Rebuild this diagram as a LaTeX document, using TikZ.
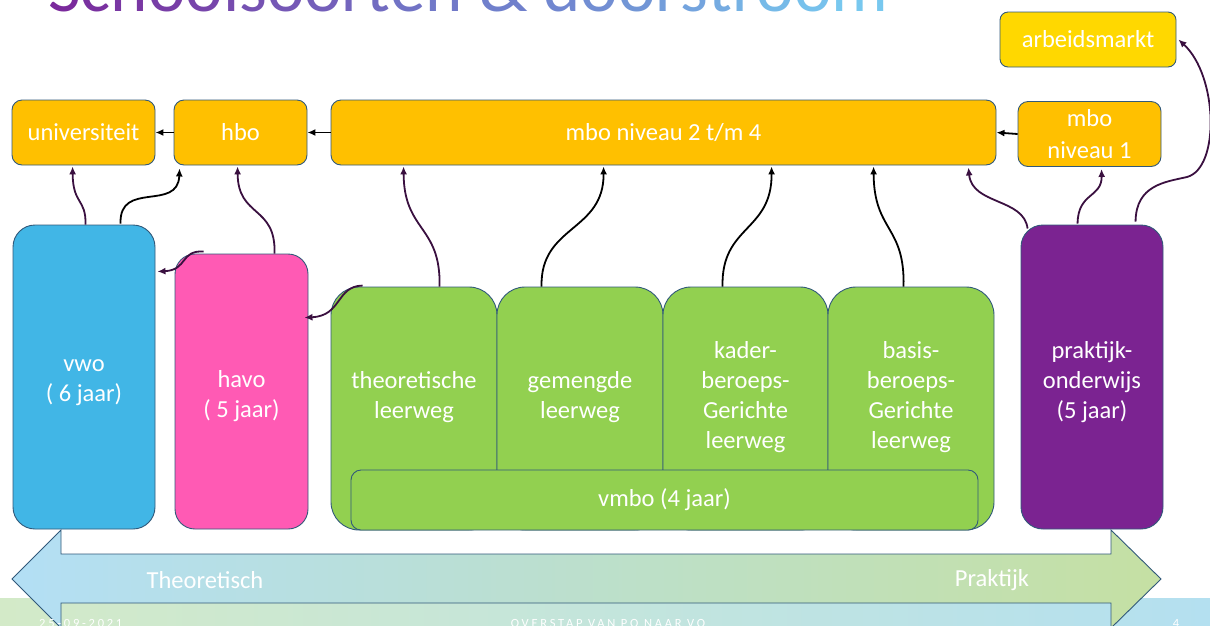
\documentclass[tikz,border=0pt]{standalone}
\usepackage{fontspec}
\setmainfont{Carlito}
\usetikzlibrary{arrows.meta,calc}
\definecolor{bordc}{HTML}{31597A}
\definecolor{orng}{HTML}{FFC000}
\definecolor{gold}{HTML}{FFD800}
\definecolor{vwoc}{HTML}{41B6E6}
\definecolor{havoc}{HTML}{FF5AB4}
\definecolor{grn}{HTML}{92D050}
\definecolor{prpl}{HTML}{7B2391}
\definecolor{plum}{HTML}{3A1040}
\definecolor{arrL}{HTML}{B3DFF5}
\definecolor{arrR}{HTML}{C5E0A3}
\definecolor{footL}{HTML}{D3EAC8}
\definecolor{footR}{HTML}{B4E0F0}
\definecolor{titA}{HTML}{7A2A9C}
\definecolor{titM}{HTML}{7080CC}
\definecolor{titB}{HTML}{78C8EF}
\newcommand\tla[2]{\textcolor{titM!#1!titA}{#2}}
\newcommand\tlb[2]{\textcolor{titB!#1!titM}{#2}}
\begin{document}
\begin{tikzpicture}[x=1pt,y=-1pt,
  box/.style={draw=bordc, line width=0.9pt, text=white, align=center,
    font=\fontsize{24.5}{30}\selectfont, inner sep=0pt},
  lbl/.style={text=white, align=center, font=\fontsize{24.5}{30}\selectfont, inner sep=0pt},
  conP/.style={draw=plum, line width=1.8pt, -{Latex[length=8pt,width=7pt]}},
  conK/.style={draw=black, line width=1.8pt, -{Latex[length=8pt,width=7pt]}},
  foot/.style={text=white, inner sep=0pt, font=\fontsize{12.5}{14}\selectfont\addfontfeature{LetterSpace=22}}
]
\useasboundingbox (0,0) rectangle (1210,625);
\clip (0,0) rectangle (1210,625);
\fill[white] (0,0) rectangle (1210,625);

% title
\node[anchor=base west, inner sep=0pt, font=\fontsize{71}{80}\selectfont] (title) at (48,11)
 {\tla{0}{S}\tla{8}{c}\tla{15}{h}\tla{23}{o}\tla{31}{o}\tla{38}{l}\tla{46}{s}\tla{54}{o}\tla{62}{o}\tla{69}{r}\tla{77}{t}\tla{85}{e}\tla{92}{n} \tlb{0}{\&} \tlb{10}{d}\tlb{20}{o}\tlb{30}{o}\tlb{40}{r}\tlb{50}{s}\tlb{60}{t}\tlb{70}{r}\tlb{80}{o}\tlb{90}{o}\tlb{100}{m}};

% footer band
\fill[left color=footL, right color=footR] (0,598) rectangle (1210,625);

% big two-headed arrow
\path[left color=arrL, right color=arrR, draw=bordc, line width=0.9pt]
  (12,579) -- (61,530) -- (61,554) -- (1111,554) -- (1111,530) -- (1161,579)
  -- (1111,628) -- (1111,603) -- (61,603) -- (61,628) -- cycle;
\node[lbl] (theo) at (205,580) {Theoretisch};
\node[lbl] (prak) at (992,580) {Praktijk};

% top row
\node[box, fill=orng, rounded corners=10pt, minimum width=143pt, minimum height=65pt] (univ) at (83.5,132.5) {universiteit};
\node[box, fill=orng, rounded corners=10pt, minimum width=133pt, minimum height=65pt] (hbo) at (240.5,132.5) {hbo};
\node[box, fill=orng, rounded corners=10pt, minimum width=665pt, minimum height=65pt] (mbo) at (663.5,132.5) {mbo niveau 2 t/m 4};
\node[box, fill=orng, rounded corners=10pt, minimum width=143pt, minimum height=65pt, font=\fontsize{24.5}{32}\selectfont] (mboa) at (1089.5,134) {mbo\\niveau 1};
\node[box, fill=gold, rounded corners=8pt, minimum width=176pt, minimum height=55pt] (arb) at (1088,39.5) {arbeidsmarkt};

% school types
\node[box, fill=vwoc, rounded corners=22pt, minimum width=142pt, minimum height=304pt] (vwo) at (84,377) {};
\node[box, fill=havoc, rounded corners=20pt, minimum width=133pt, minimum height=275pt] (havo) at (241.5,391.5) {};
\node[box, fill=prpl, rounded corners=22pt, minimum width=142pt, minimum height=304pt] (pro) at (1092,377) {};
\node[lbl] (vwot) at (84,383) {vwo\\( 6 jaar)};
\node[lbl] (havot) at (241.5,396) {havo\\( 5 jaar)};
\node[lbl] (prot) at (1092,382) {praktijk-\\onderwijs\\(5 jaar)};

\node[box, fill=grn, rounded corners=28pt, minimum width=166pt, minimum height=243pt] (g1) at (414,408.5) {};
\node[box, fill=grn, rounded corners=28pt, minimum width=166pt, minimum height=243pt] (g2) at (580,408.5) {};
\node[box, fill=grn, rounded corners=28pt, minimum width=165pt, minimum height=243pt] (g3) at (745.5,408.5) {};
\node[box, fill=grn, rounded corners=28pt, minimum width=166pt, minimum height=243pt] (g4) at (911,408.5) {};
\node[lbl] (t1) at (414,397) {theoretische\\leerweg};
\node[lbl] (t2) at (580,397) {gemengde\\leerweg};
\node[lbl] (t3) at (745.5,397) {kader-\\beroeps-\\Gerichte\\leerweg};
\node[lbl] (t4) at (911,397) {basis-\\beroeps-\\Gerichte\\leerweg};
\node[box, fill=grn, rounded corners=10pt, minimum width=627pt, minimum height=60pt] (vmbo) at (664.5,500) {vmbo (4 jaar)};

% horizontal arrows
\draw[conK] (mboa.west) -- (mbo.east);
\draw[conK] (mbo.west) -- (hbo.east);
\draw[conK] (hbo.west) -- (univ.east);

% curved connectors
\coordinate (vw1) at ($(vwo.north west)+(73,0)$);
\coordinate (vw2) at ($(vwo.north west)+(108,-1)$);
\draw[conP] (vw1) .. controls (86,198) and (73,205) .. ($(univ.south west)+(61,1)$);
\draw[conK] (vw2) .. controls (119,180) and (178,212) .. ($(hbo.south west)+(6,3)$);

\coordinate (hv1) at ($(havo.north west)+(100,0)$);
\coordinate (hv2) at ($(havo.north west)+(29,-2)$);
\draw[conP] (hv1) .. controls (276,205) and (238,218) .. ($(hbo.south west)+(64,1)$);
\draw[conP] (hv2) .. controls (180,250) and (188,270) .. ($(vwo.north east)+(2,47)$);

\coordinate (ga) at ($(g1.north west)+(32,-1)$);
\draw[conP] (ga) .. controls (336,286) and (342,316) .. ($(havo.north east)+(-4,64)$);
\draw[conP] ($(g1.north west)+(109,0)$) .. controls (441,225) and (404,232) .. ($(mbo.south west)+(73,1)$);
\draw[conK] ($(g2.north west)+(45,0)$) .. controls (540,225) and (604,232) .. ($(mbo.south west)+(273,1)$);
\draw[conK] ($(g3.north west)+(60,0)$) .. controls (721,225) and (772,232) .. ($(mbo.south west)+(441,1)$);
\draw[conK] ($(g4.north west)+(76,0)$) .. controls (905,225) and (874,232) .. ($(mbo.south west)+(543,1)$);

\coordinate (p1) at ($(pro.north west)+(7,4)$);
\coordinate (p2) at ($(pro.north west)+(57,-1)$);
\coordinate (p3) at ($(pro.north west)+(115,-3)$);
\draw[conP] (p1) .. controls (1024,198) and (972,205) .. ($(mbo.south east)+(-28,2)$);
\draw[conP] (p2) .. controls (1078,192) and (1102,198) .. ($(mboa.south west)+(84,2)$);
\draw[conP] (p3) .. controls (1136,185) and (1165,182) .. (1187,177) .. controls (1220,168) and (1218,76) .. ($(arb.east)+(2,0)$);

% footer texts
\node[foot, anchor=base west] (fd) at (39,627) {25-09-2021};
\node[foot, anchor=base] (ft) at (608,627) {OVERSTAP VAN PO NAAR VO};
\node[foot, anchor=base] (fn) at (1176,627) {4};
\end{tikzpicture}
\end{document}
